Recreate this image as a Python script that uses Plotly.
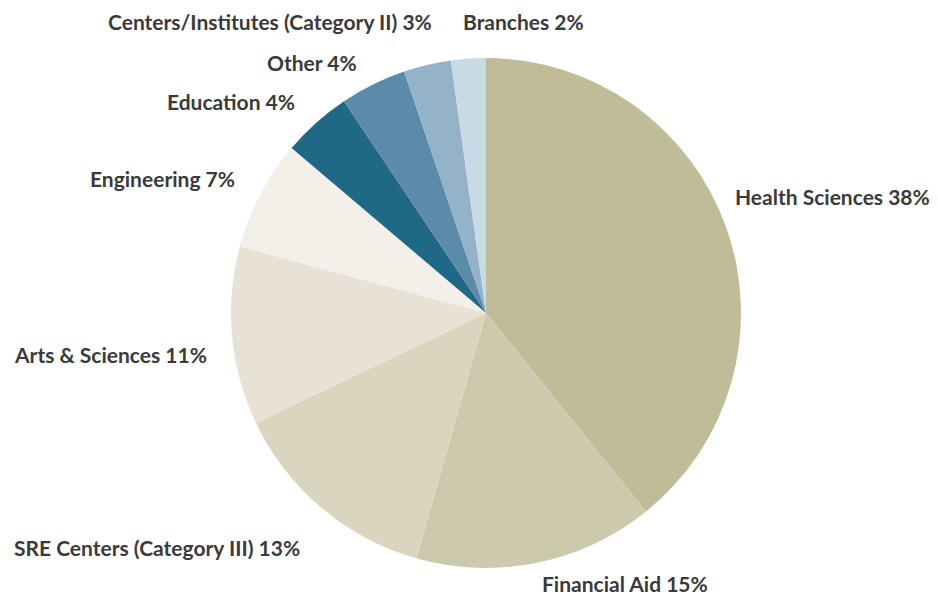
import plotly.graph_objects as go

# Slice shares, clockwise from 12 o'clock
labels = [
    "Health Sciences 38%",
    "Financial Aid 15%",
    "SRE Centers (Category III) 13%",
    "Arts & Sciences 11%",
    "Engineering 7%",
    "Education 4%",
    "Other 4%",
    "Centers/Institutes (Category II) 3%",
    "Branches 2%",
]
values = [39.2, 15.2, 13.5, 11.3, 7.0, 4.4, 4.2, 3.0, 2.2]
colors = [
    "#c0bc97", "#cdc9ac", "#dad5bf", "#e7e2d5", "#f3f0e9",
    "#1f6986", "#5b8ba9", "#94b2c8", "#c8dae6",
]

# page body has an 8px margin, so the figure is shifted by that much
OFF = 8
W, H = 938 - 2 * OFF, 606 - 2 * OFF
CX, CY, R = 486 - OFF, 313 - OFF, 255  # pie centre and radius in figure pixels

# label placement in window pixels (x, y, anchor) - layout only
label_pos = [
    (733, 197, "left"),
    (540, 583, "left"),
    (12, 547, "left"),
    (12, 354, "left"),
    (237, 178, "right"),
    (297, 102, "right"),
    (359, 62, "right"),
    (434, 22, "right"),
    (461, 22, "left"),
]

fig = go.Figure(
    go.Pie(
        labels=labels, values=values, sort=False, direction="clockwise",
        rotation=0, marker=dict(colors=colors, line=dict(width=0)),
        textinfo="none", hoverinfo="label", showlegend=False,
        domain=dict(x=[(CX - R) / W, (CX + R) / W], y=[(H - CY - R) / H, (H - CY + R) / H]),
    )
)

for text, (px, py, anchor) in zip(labels, label_pos):
    fig.add_annotation(
        text=f"<b>{text}</b>", x=(px - OFF) / W, y=1 - (py - OFF) / H,
        xref="paper", yref="paper",
        xanchor=anchor, yanchor="middle", showarrow=False,
        font=dict(family="Lato, sans-serif", size=21, color="#3a3a3a"),
    )

fig.update_layout(
    width=W, height=H, margin=dict(l=0, r=0, t=0, b=0),
    paper_bgcolor="white", plot_bgcolor="white",
)
fig.write_html("out.html")
